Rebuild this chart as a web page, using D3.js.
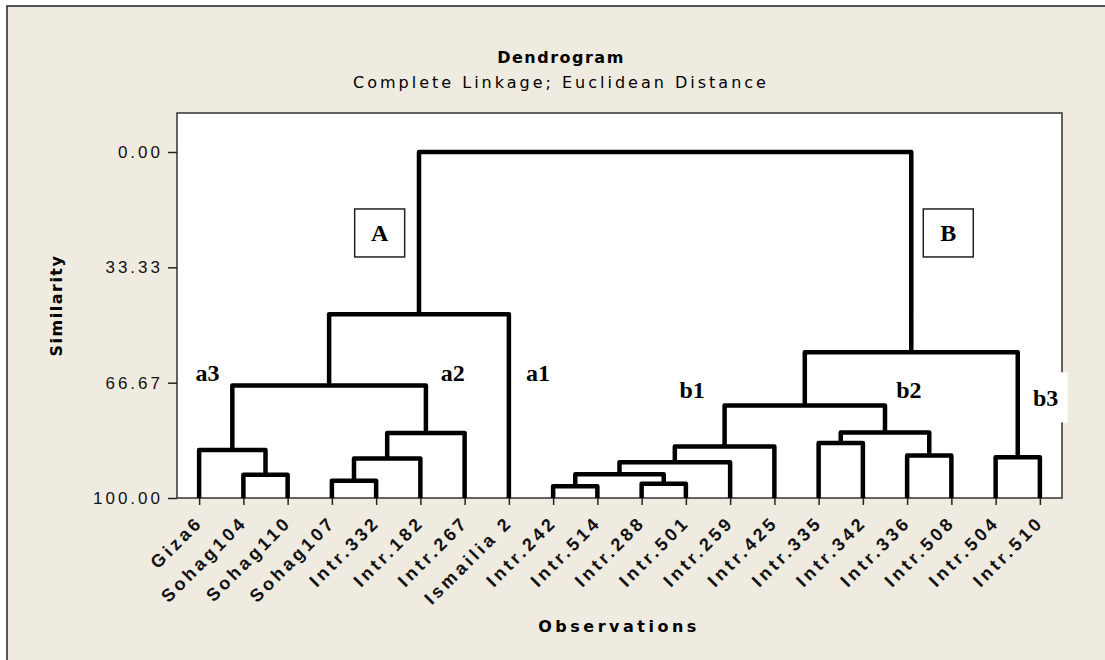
<!DOCTYPE html>
<html lang="en">
<head>
<meta charset="UTF-8">
<title>Dendrogram</title>
<style>
  body { margin: 0; background: #fff; font-family: "DejaVu Sans", sans-serif; }
  .axis path.domain { display: none; }
  .axis line { stroke: #222; stroke-width: 1.5px; }
  .y.axis text { font-size: 17px; letter-spacing: 3px; fill: #111; }
  .x.axis text { font-size: 18px; font-weight: bold; letter-spacing: 3.5px; fill: #111; }
  .link { fill: none; stroke: #000; stroke-width: 4.5px; stroke-linejoin: round; }
  .group { font-family: "Liberation Serif", "Times New Roman", serif; font-weight: bold; font-size: 24px; }
</style>
<script src="https://d3js.org/d3.v7.min.js"></script>
</head>
<body>
<script>
// observations in the order they appear along the axis
var leaves = ['Giza6', 'Sohag104', 'Sohag110', 'Sohag107', 'Intr.332', 'Intr.182', 'Intr.267',
  'Ismailia 2', 'Intr.242', 'Intr.514', 'Intr.288', 'Intr.501', 'Intr.259', 'Intr.425',
  'Intr.335', 'Intr.342', 'Intr.336', 'Intr.508', 'Intr.504', 'Intr.510'];

// merges: [child a, child b, similarity]; ids 0-19 are leaves, merge k gets id 20+k
var merges = [
  [8, 9, 96.6],
  [10, 11, 95.9],
  [3, 4, 95.0],
  [1, 2, 93.3],
  [20, 21, 93.1],
  [24, 12, 89.7],
  [22, 5, 88.6],
  [18, 19, 88.2],
  [16, 17, 87.7],
  [0, 23, 86.1],
  [25, 13, 85.1],
  [14, 15, 84.1],
  [26, 6, 81.2],
  [31, 28, 81.1],
  [30, 33, 73.3],
  [29, 32, 67.5],
  [34, 27, 57.9],
  [35, 7, 46.9],
  [37, 36, 0]
];

var yTicks = [0, 33.33, 66.67, 100];

// cluster labels, placed in (leaf index, similarity) units
var groupNames = ['a3', 'a2', 'a1', 'b1', 'b2', 'b3'];
var groupIdx = [0.19, 5.73, 7.66, 11.14, 16.04, 19.13];
var groupSim = [63.8, 63.8, 63.8, 68.7, 68.7, 70.9];

var boxNames = ['A', 'B'];
var boxIdx = [4.08, 16.93];
var boxSim = [23.4, 23.4];

var W = 1105, H = 660;
var plot = {left: 177, top: 113, right: 1062, bottom: 498};

var svg = d3.select('body').append('svg')
  .attr('width', W)
  .attr('height', H);

// outer frame (only the top/left edges fall inside the picture)
svg.append('rect')
  .attr('x', 7).attr('y', 6)
  .attr('width', W).attr('height', H)
  .attr('fill', '#efebe1')
  .attr('stroke', '#222')
  .attr('stroke-width', 1.5);

var x = d3.scalePoint()
  .domain(leaves)
  .range([plot.left, plot.right])
  .padding(0.5);

var xi = d3.scaleLinear()
  .domain([0, leaves.length - 1])
  .range([x(leaves[0]), x(leaves[leaves.length - 1])]);

var y = d3.scaleLinear()
  .domain([0, 100])
  .range([152, plot.bottom]);

// plot area
svg.append('rect')
  .attr('x', plot.left).attr('y', plot.top)
  .attr('width', plot.right - plot.left)
  .attr('height', plot.bottom - plot.top)
  .attr('fill', '#fff')
  .attr('stroke', '#333')
  .attr('stroke-width', 1.5);

// titles
svg.append('text')
  .attr('x', 561).attr('y', 63)
  .attr('text-anchor', 'middle')
  .style('font-size', '16px')
  .style('font-weight', 'bold')
  .style('letter-spacing', '1.5px')
  .text('Dendrogram');

svg.append('text')
  .attr('x', 561).attr('y', 88)
  .attr('text-anchor', 'middle')
  .style('font-size', '16px')
  .style('letter-spacing', '3px')
  .text('Complete Linkage; Euclidean Distance');

// axes
svg.append('g')
  .attr('class', 'y axis')
  .attr('transform', 'translate(' + plot.left + ',0)')
  .call(d3.axisLeft(y).tickValues(yTicks).tickFormat(d3.format('.2f')).tickSize(9).tickPadding(5));

var xAxis = svg.append('g')
  .attr('class', 'x axis')
  .attr('transform', 'translate(0,' + plot.bottom + ')')
  .call(d3.axisBottom(x).tickSize(7));

xAxis.selectAll('text')
  .attr('x', 0).attr('y', 0).attr('dy', null)
  .style('text-anchor', 'end')
  .attr('transform', 'translate(4.5,25.5) rotate(-45)');

svg.append('text')
  .attr('transform', 'translate(62,' + ((plot.top + plot.bottom) / 2) + ') rotate(-90)')
  .attr('text-anchor', 'middle')
  .style('font-size', '16px')
  .style('font-weight', 'bold')
  .style('letter-spacing', '1.5px')
  .text('Similarity');

svg.append('text')
  .attr('x', 619).attr('y', 632)
  .attr('text-anchor', 'middle')
  .style('font-size', '16px')
  .style('font-weight', 'bold')
  .style('letter-spacing', '3.5px')
  .text('Observations');

// dendrogram links
var pos = leaves.map(function(d) { return {x: x(d), s: 100}; });
merges.forEach(function(m) {
  pos.push({x: (pos[m[0]].x + pos[m[1]].x) / 2, s: m[2]});
});

svg.append('g').selectAll('path')
  .data(merges)
  .enter().append('path')
  .attr('class', 'link')
  .attr('d', function(m) {
    var a = pos[m[0]], b = pos[m[1]];
    return 'M' + a.x + ',' + y(a.s) + 'V' + y(m[2]) + 'H' + b.x + 'V' + y(b.s);
  });

// group labels
groupNames.forEach(function(name, i) {
  var g = svg.append('g')
    .attr('transform', 'translate(' + xi(groupIdx[i]) + ',' + y(groupSim[i]) + ')');
  if (name === 'b3') {
    g.append('rect')
      .attr('x', -21).attr('y', -25)
      .attr('width', 43).attr('height', 50)
      .attr('fill', '#fff');
  }
  g.append('text')
    .attr('class', 'group')
    .attr('text-anchor', 'middle')
    .attr('dy', '0.35em')
    .text(name);
});

boxNames.forEach(function(name, i) {
  var g = svg.append('g')
    .attr('transform', 'translate(' + xi(boxIdx[i]) + ',' + y(boxSim[i]) + ')');
  g.append('rect')
    .attr('x', -25).attr('y', -24)
    .attr('width', 50).attr('height', 48)
    .attr('fill', '#fff')
    .attr('stroke', '#222')
    .attr('stroke-width', 1.5);
  g.append('text')
    .attr('class', 'group')
    .attr('text-anchor', 'middle')
    .attr('dy', '0.35em')
    .text(name);
});
</script>
</body>
</html>
